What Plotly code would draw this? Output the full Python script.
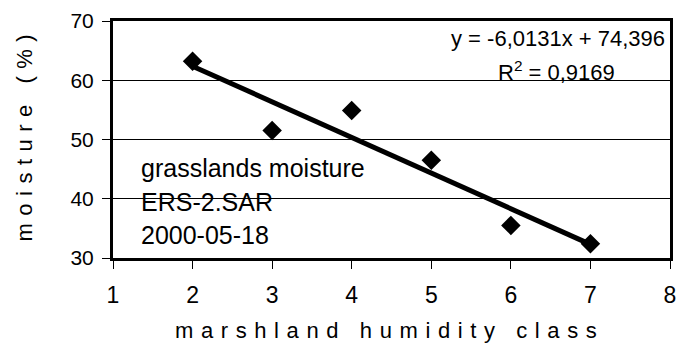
import numpy as np
import plotly.graph_objects as go

# Data
humidity_class = [2, 3, 4, 5, 6, 7]
moisture = [63.2, 51.5, 54.9, 46.5, 35.5, 32.4]
slope = -6.0131
intercept = 74.396
r2_text = "0,9169"
eq_text = "y = -6,0131x + 74,396"
x_ticks = [1, 2, 3, 4, 5, 6, 7, 8]
y_ticks = [30, 40, 50, 60, 70]
info_lines = ["grasslands moisture", "ERS-2.SAR", "2000-05-18"]

FONT = "Liberation Sans, Arial, sans-serif"

trend_x = np.array([min(humidity_class), max(humidity_class)], dtype=float)
trend_y = slope * trend_x + intercept

fig = go.Figure()
fig.add_trace(go.Scatter(
    x=humidity_class, y=moisture, mode="markers",
    marker=dict(symbol="diamond", size=15, color="black", line=dict(width=0)),
    showlegend=False, cliponaxis=False))
fig.add_trace(go.Scatter(
    x=trend_x, y=trend_y, mode="lines",
    line=dict(color="black", width=5), showlegend=False))

W, H = 685, 347
L, R, T, B = 113, 9, 18, 89
pw, ph = W - L - R, H - T - B

def px_x(px):
    return (px - L) / pw

def px_y(py):
    return (H - B - py) / ph

annotations = []
# info lines
for txt, cy in zip(info_lines, [167.0, 201.0, 234.5]):
    annotations.append(dict(text=txt, xref="paper", yref="paper",
                            x=px_x(139), y=px_y(cy), xanchor="left", yanchor="middle",
                            showarrow=False, font=dict(family=FONT, size=25, color="black")))
annotations.append(dict(text=eq_text, xref="paper", yref="paper",
                        x=px_x(673), y=px_y(36), xanchor="right", yanchor="middle",
                        showarrow=False, font=dict(family=FONT, size=22, color="black")))
annotations.append(dict(text="R<sup>2</sup> = " + r2_text, xref="paper", yref="paper",
                        x=px_x(561), y=px_y(69), xanchor="center", yanchor="middle",
                        showarrow=False, font=dict(family=FONT, size=22, color="black")))
# axis titles
annotations.append(dict(text='<span style="letter-spacing:7.5px">moisture (%)</span>',
                        xref="paper", yref="paper", x=px_x(24), y=px_y(132),
                        xanchor="center", yanchor="middle", textangle=-90,
                        showarrow=False, font=dict(family=FONT, size=22, color="black")))
annotations.append(dict(text='<span style="letter-spacing:7.6px">marshland humidity class</span>',
                        xref="paper", yref="paper", x=px_x(392), y=px_y(331),
                        xanchor="center", yanchor="middle",
                        showarrow=False, font=dict(family=FONT, size=22, color="black")))

fig.update_layout(
    width=W, height=H,
    margin=dict(l=L, r=R, t=T, b=B, pad=0),
    paper_bgcolor="white", plot_bgcolor="white",
    font=dict(family=FONT, color="black"),
    annotations=annotations,
    xaxis=dict(range=[1, 8], tickvals=x_ticks, ticktext=[str(v) for v in x_ticks],
               showgrid=False, zeroline=False,
               showline=True, linecolor="black", linewidth=3, mirror=True,
               ticks="outside", ticklen=8, tickwidth=1, tickcolor="black",
               tickfont=dict(family=FONT, size=23, color="black"), ticklabelstandoff=6),
    yaxis=dict(range=[30, 70], tickvals=y_ticks, ticktext=[str(v) for v in y_ticks],
               showgrid=True, gridcolor="black", gridwidth=1, zeroline=False,
               showline=True, linecolor="black", linewidth=3, mirror=True,
               ticks="outside", ticklen=8, tickwidth=1, tickcolor="black",
               tickfont=dict(family=FONT, size=21, color="black"), ticklabelstandoff=4),
)

fig.write_html("out.html")
